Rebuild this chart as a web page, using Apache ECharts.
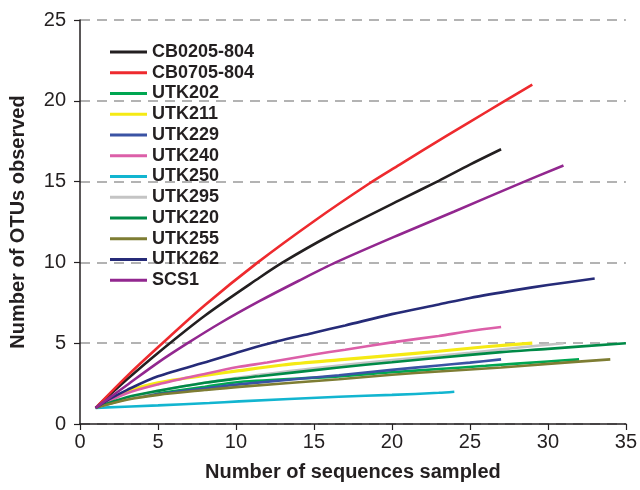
<!DOCTYPE html>
<html>
<head>
<meta charset="utf-8">
<script src="https://cdn.jsdelivr.net/npm/echarts@6/dist/echarts.min.js"></script>
<style>
  html, body { margin: 0; padding: 0; background: #fff; }
  #chart { width: 640px; height: 490px; }
</style>
</head>
<body>
<div id="chart"></div>
<script>
// rarefaction curves, [sequences sampled, OTUs observed]
const names = ['CB0205-804', 'CB0705-804', 'UTK202', 'UTK211', 'UTK229', 'UTK240',
               'UTK250', 'UTK295', 'UTK220', 'UTK255', 'UTK262', 'SCS1'];
const colors = ['#231f20', '#ee2a2e', '#00a651', '#f5ea14', '#3a53a4', '#dc5fa8',
                '#12b5d0', '#c4c4c4', '#008a47', '#7e7d33', '#262b78', '#92278f'];

const cb0205 = [[1,1],[3,2.75],[5,4.4],[8,6.7],[11.5,9.05],[13,10],[16,11.65],[20.5,13.85],[23,15.05],[25,16.05],[27,17]];
const cb0705 = [[1,1],[3,2.95],[5,4.75],[8,7.35],[11.4,10],[15,12.55],[18.5,14.85],[20.5,16.05],[22,16.95],[25,18.7],[27,19.85],[29,21]];
const utk202 = [[1,1],[3,1.6],[5,1.9],[8,2.3],[10.2,2.6],[16.6,2.95],[20,3.2],[23,3.4],[26,3.6],[30,3.87],[32,4]];
const utk211 = [[1,1],[3,2.0],[5,2.55],[8,3.0],[10.2,3.3],[13,3.65],[16.6,3.97],[20,4.25],[23,4.5],[26,4.78],[29,5]];
const utk229 = [[1,1],[3,1.55],[5,1.85],[8,2.2],[10.2,2.45],[16.6,3.02],[20,3.35],[23,3.62],[25,3.8],[27,4]];
const utk240 = [[1,1],[3,1.9],[5,2.45],[8,3.1],[10.2,3.54],[12,3.8],[15,4.3],[17,4.6],[20,5.05],[23,5.45],[25,5.75],[27,6]];
const utk250 = [[1,1],[5,1.15],[8.3,1.3],[10.2,1.4],[16.6,1.69],[20,1.8],[23,1.93],[24,2]];
const utk295 = [[1,1],[5,2.05],[10,2.85],[15,3.45],[20,3.95],[25,4.4],[28,4.72],[31,5]];
const utk220 = [[1,1],[3,1.65],[5,2.05],[8,2.55],[10.2,2.82],[11.5,2.95],[16.6,3.5],[20,3.82],[23,4.1],[27,4.45],[30,4.65],[35,5]];
const utk255 = [[1,1],[3,1.5],[5,1.8],[8,2.1],[10.2,2.3],[16.6,2.77],[20,3.05],[23,3.25],[27,3.5],[30,3.72],[34,4]];
const utk262 = [[1,1],[2,1.6],[3,2.1],[5,2.95],[8.3,3.9],[10,4.4],[12,4.95],[15,5.65],[17,6.1],[20,6.8],[23,7.4],[25,7.8],[28,8.3],[30,8.6],[33,9]];
const scs1   = [[1,1],[3,2.4],[5,3.8],[6.9,5],[9,6.25],[11.5,7.6],[14,8.85],[16.4,10],[20.5,11.73],[24,13.15],[28,14.8],[31,16]];

const curves = [cb0205, cb0705, utk202, utk211, utk229, utk240, utk250, utk295, utk220, utk255, utk262, scs1];

const xTicks = [0, 5, 10, 15, 20, 25, 30, 35];
const yTicks = [0, 5, 10, 15, 20, 25];

const ink = '#231f20';
const chart = echarts.init(document.getElementById('chart'));

chart.setOption({
    animation: false,
    color: colors,
    textStyle: { fontFamily: 'Liberation Sans, Arial, sans-serif' },
    grid: { left: 80, right: 13, top: 20, bottom: 66 },
    legend: {
        orient: 'vertical',
        left: 105, top: 37,
        icon: 'rect',
        itemWidth: 37, itemHeight: 3, itemGap: 0.75,
        data: names,
        textStyle: { color: ink, fontSize: 18, fontWeight: 'bold', lineHeight: 20 },
    },
    xAxis: {
        type: 'value',
        min: xTicks[0], max: xTicks[xTicks.length - 1], interval: 5,
        name: 'Number of sequences sampled',
        nameLocation: 'middle', nameGap: 38,
        nameTextStyle: { color: ink, fontSize: 20, fontWeight: 'bold' },
        axisLine: { lineStyle: { color: ink, width: 1.5 } },
        axisTick: { length: 6, lineStyle: { color: ink, width: 1.2 } },
        axisLabel: { color: ink, fontSize: 20, margin: 8 },
        splitLine: { show: false },
    },
    yAxis: {
        type: 'value',
        min: yTicks[0], max: yTicks[yTicks.length - 1], interval: 5,
        name: 'Number of OTUs observed',
        nameLocation: 'middle', nameGap: 52,
        nameTextStyle: { color: ink, fontSize: 20, fontWeight: 'bold' },
        axisLine: { show: true, lineStyle: { color: ink, width: 1.5 } },
        axisTick: { show: true, length: 6, lineStyle: { color: ink, width: 1.2 } },
        axisLabel: { color: ink, fontSize: 20, margin: 14 },
        splitLine: { lineStyle: { color: '#9a9a9a', width: 1.5, type: [10, 7] } },
    },
    series: curves.map((d, i) => ({
        name: names[i],
        type: 'line',
        data: d,
        smooth: 0.3,
        symbol: 'none',
        lineStyle: { width: names[i] === 'UTK211' ? 3.2 : 2.6, color: colors[i] },
    })),
});
</script>
</body>
</html>
